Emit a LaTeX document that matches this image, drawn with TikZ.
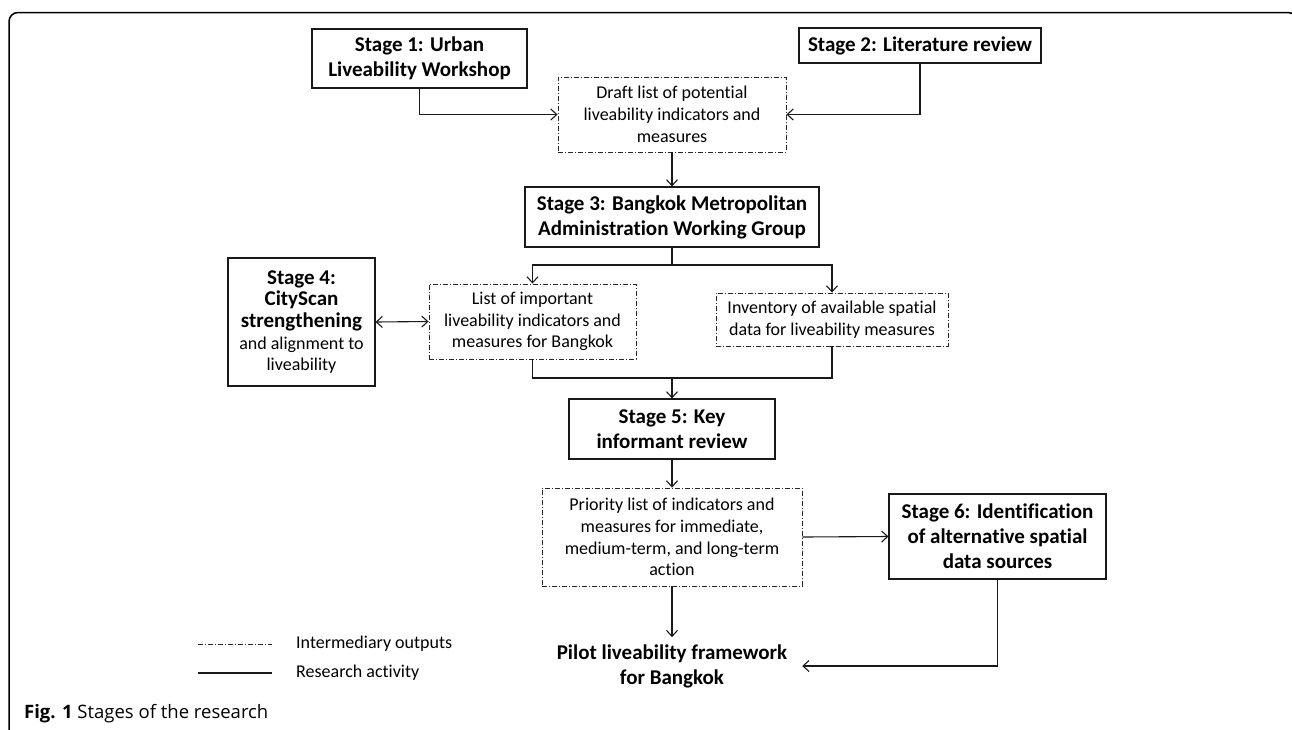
\documentclass[tikz,border=0pt]{standalone}
\usepackage{fontspec}
\setmainfont{Carlito}[RawFeature={-liga;-clig;-calt;-dlig;-rlig}]
\newfontfamily\capfont{Open Sans}
\usetikzlibrary{arrows.meta, positioning, calc}
\newcommand{\bsize}{\fontsize{21}{25}\selectfont\bfseries}
\newcommand{\rsize}{\fontsize{18}{21.7}\selectfont}

\begin{document}
\begin{tikzpicture}[x=1pt, y=-1pt,
  stagebox/.style={draw=black!90, line width=1.1pt, align=center, inner sep=0pt, font=\bsize},
  outbox/.style={draw=black!85, line width=0.9pt, dash pattern=on 5pt off 2pt on 1pt off 2pt, align=center, inner sep=0pt, font=\rsize},
  arr/.style={line width=1.1pt, draw=black!90, -{Straight Barb[length=6pt, width=11pt]}},
  link/.style={line width=1.1pt, draw=black!90}
]
  \useasboundingbox (0,0) rectangle (1292,729);

  % outer frame
  \draw[line width=1.5pt, rounded corners=9pt] (9,760) -- (9,12.5) -- (1297,12.5) -- (1297,760);

  % Stage 1 and Stage 2
  \node[stagebox, minimum width=215pt, minimum height=59pt] (s1) at (419.5,58.5) {Stage 1: Urban\\Liveability Workshop};
  \node[stagebox, minimum width=242pt, minimum height=35pt] (s2) at (920,45.5) {Stage 2: Literature review};

  % Draft list
  \node[outbox, minimum width=228pt, minimum height=75pt] (draft) at (672,114.5) {Draft list of potential\\liveability indicators and\\measures};

  % Stage 3
  \node[stagebox, minimum width=294pt, minimum height=60pt] (s3) at (672,217) {Stage 3: Bangkok Metropolitan\\Administration Working Group};

  % Stage 4
  \node[stagebox, font=\rsize, minimum width=147pt, minimum height=128pt] (s4) at (301.5,322) {{\bsize Stage 4:}\\{\bsize CityScan}\\{\bsize strengthening}\\and alignment to\\liveability};

  % outputs of Stage 3
  \node[outbox, minimum width=207pt, minimum height=75pt] (imp) at (532.5,321.5) {List of important\\liveability indicators and\\measures for Bangkok};
  \node[outbox, minimum width=232pt, minimum height=53pt] (inv) at (832,319.5) {Inventory of available spatial\\data for liveability measures};

  % Stage 5
  \node[stagebox, minimum width=206pt, minimum height=60pt] (s5) at (672,429) {Stage 5: Key\\informant review};

  % Priority list
  \node[outbox, minimum width=260pt, minimum height=98pt] (prio) at (672,537) {Priority list of indicators and\\measures for immediate,\\medium-term, and long-term\\action};

  % Stage 6
  \node[stagebox, minimum width=217pt, minimum height=85pt] (s6) at (997.5,536.5) {Stage 6: Identification\\of alternative spatial\\data sources};

  % Pilot framework
  \node[align=center, font=\bsize, minimum width=260pt, inner sep=7pt] (pilot) at (672,666) {Pilot liveability framework\\for Bangkok};

  % connectors
  \draw[arr] (s1.south) |- (draft.west);
  \draw[arr] (s2.south) |- (draft.east);
  \draw[arr] (draft.south) -- (s3.north);
  \coordinate (split) at (672,265);
  \draw[link] (s3.south) -- (split);
  \draw[arr] (split) -| (imp.north);
  \draw[arr] (split) -| (inv.north);
  \draw[link, {Straight Barb[length=6pt, width=11pt]}-{Straight Barb[length=6pt, width=11pt]}] (s4.east) -- (imp.west);
  \coordinate (join) at (672,378);
  \draw[link] (imp.south) |- (join) -| (inv.south);
  \draw[arr] (join) -- (s5.north);
  \draw[arr] (s5.south) -- (prio.north);
  \draw[arr] (prio.east) -- (s6.west);
  \draw[arr] (prio.south) -- (pilot.north);
  \draw[arr] (s6.south) |- (pilot.east);

  % legend
  \draw[draw=black!85, line width=0.9pt, dash pattern=on 5pt off 2pt on 1pt off 2pt] (198,644) -- (272,644);
  \node[anchor=west, font=\rsize, inner sep=0pt] (legout) at (296,644) {Intermediary outputs};
  \draw[link] (198,673) -- (272,673);
  \node[anchor=west, font=\rsize, inner sep=0pt] (legact) at (296,673) {Research activity};

  % caption
  \node[anchor=base west, font=\capfont\fontsize{18.5}{22}\selectfont, inner sep=0pt] (cap) at (24,718) {\textbf{Fig. 1} Stages of the research};
\end{tikzpicture}
\end{document}
